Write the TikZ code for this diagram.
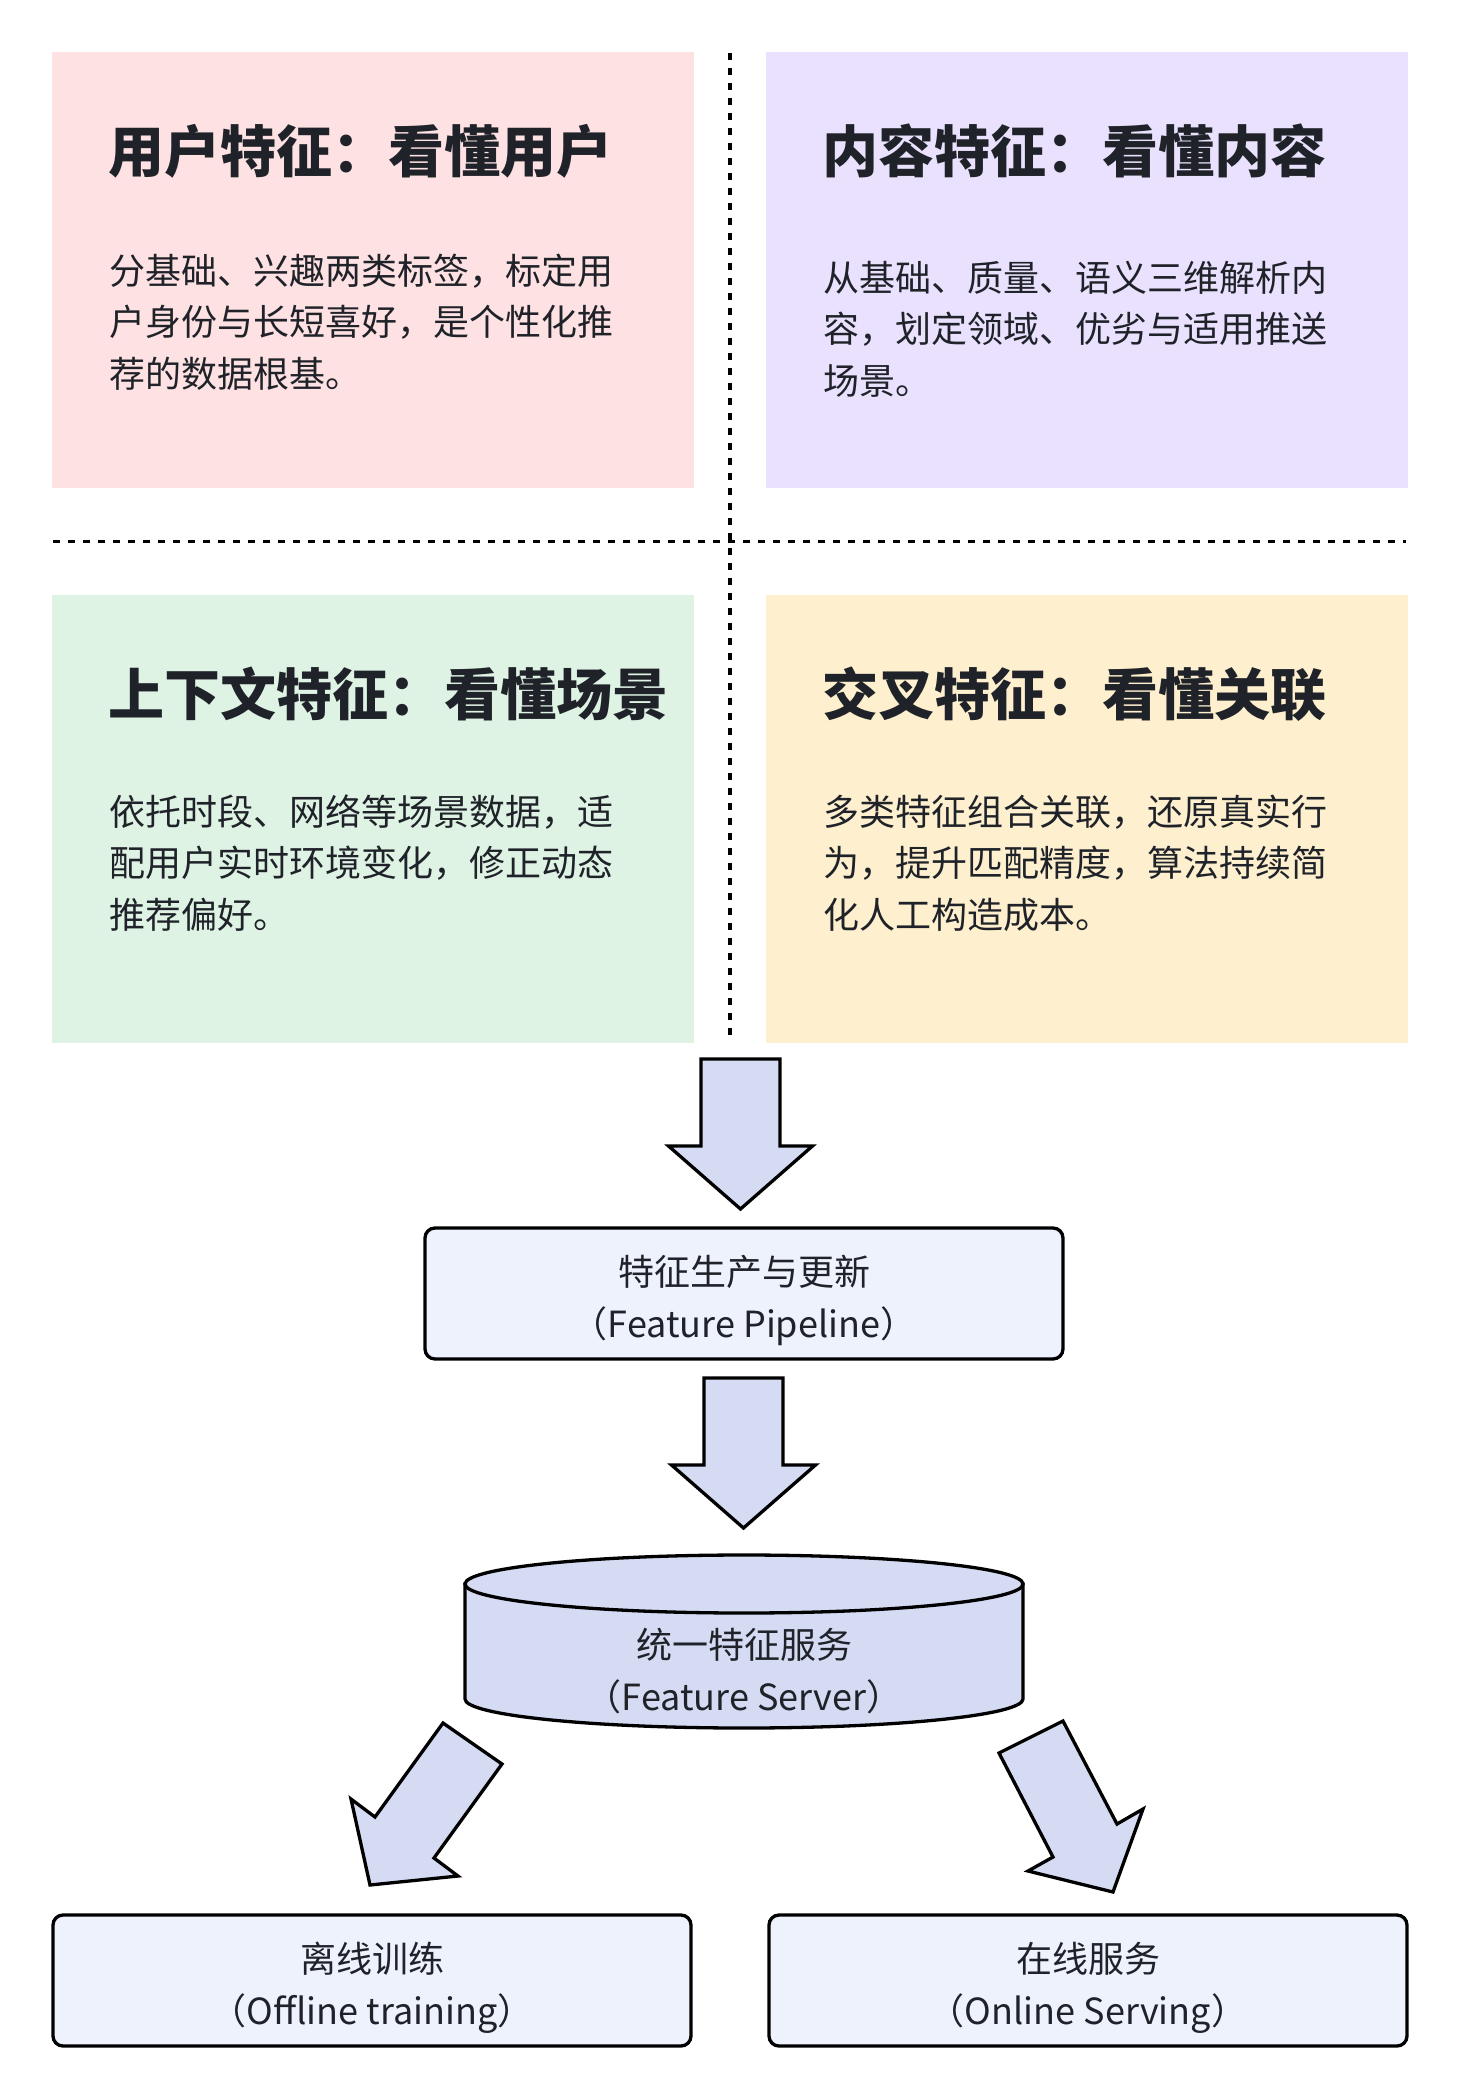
\documentclass[tikz,border=0pt]{standalone}
\usepackage{fontspec}
\setmainfont{Noto Sans CJK SC}
\definecolor{ink}{HTML}{1F2329}
\definecolor{pinkbg}{HTML}{FEE1E2}
\definecolor{purplebg}{HTML}{E9E1FD}
\definecolor{greenbg}{HTML}{DFF3E5}
\definecolor{yellowbg}{HTML}{FEF0CE}
\definecolor{arrowbg}{HTML}{D5DBF3}
\definecolor{procbg}{HTML}{EEF2FC}
\begin{document}
\begin{tikzpicture}[x=1pt,y=-1pt,
  card/.style={rectangle,inner sep=0,minimum width=642pt},
  headline/.style={anchor=base west,inner sep=0,text=ink,font=\fontsize{56}{66}\selectfont\bfseries},
  bodytext/.style={anchor=base west,inner sep=0,text=ink,align=left,font=\fontsize{36}{51.5}\selectfont},
  sep/.style={line width=3.5pt,dash pattern=on 7pt off 8pt},
  fat/.style={draw=black,fill=arrowbg,line width=3.3pt,line join=miter},
  proc/.style={draw=black,fill=procbg,line width=3.3pt,rounded corners=10pt,minimum width=638pt,minimum height=131pt},
  proctext/.style={text=ink,align=center,font=\fontsize{36}{52}\selectfont}]
  \useasboundingbox (0,0) rectangle (1464,2096);
  \node[card,fill=pinkbg,minimum height=436pt] (user) at (373,270) {};
  \node[card,fill=purplebg,minimum height=436pt] (item) at (1087,270) {};
  \node[card,fill=greenbg,minimum height=448pt] (ctx) at (373,819) {};
  \node[card,fill=yellowbg,minimum height=448pt] (cross) at (1087,819) {};
  \draw[sep] (730,53) -- (730,1037);
  \draw[sep] (53,541.5) -- (1406,541.5);
  \node[headline] (usertitle) at (108,172) {用户特征：看懂用户};
  \node[bodytext] (userbody) at (109,387) {分基础、兴趣两类标签，标定用\\户身份与长短喜好，是个性化推\\荐的数据根基。};
  \node[headline] (itemtitle) at (822,172) {内容特征：看懂内容};
  \node[bodytext] (itembody) at (823,394) {从基础、质量、语义三维解析内\\容，划定领域、优劣与适用推送\\场景。};
  \node[headline] (ctxtitle) at (108,715) {上下文特征：看懂场景};
  \node[bodytext] (ctxbody) at (109,928) {依托时段、网络等场景数据，适\\配用户实时环境变化，修正动态\\推荐偏好。};
  \node[headline] (crosstitle) at (822,715) {交叉特征：看懂关联};
  \node[bodytext] (crossbody) at (823,928) {多类特征组合关联，还原真实行\\为，提升匹配精度，算法持续简\\化人工构造成本。};
  \draw[fat] (701,1059) -- (780,1059) -- (780,1146) -- (812.5,1146) -- (740.5,1209) -- (668.5,1146) -- (701,1146) -- cycle;
  \node[proc] (pipeline) at (744,1293.5) {};
  \node[proctext,yshift=-6.5pt] (pipelinetext) at (pipeline) {特征生产与更新\\（Feature Pipeline）};
  \draw[fat] (704,1378) -- (783,1378) -- (783,1465) -- (815.5,1465) -- (743.5,1528) -- (671.5,1465) -- (704,1465) -- cycle;
  \draw[fat] (465,1584) -- (465,1699) arc[start angle=180,end angle=0,x radius=279,y radius=29] -- (1023,1584) -- cycle;
  \draw[fat] (744,1584) ellipse[x radius=279,y radius=29];
  \node[proctext] (server) at (744,1671) {统一特征服务\\（Feature Server）};
  \draw[fat] (443,1723) -- (502,1764) -- (434,1858) -- (458,1876) -- (370,1885) -- (351,1799) -- (375,1817) -- cycle;
  \draw[fat] (999,1753) -- (1063,1721) -- (1117,1824) -- (1143,1809) -- (1113,1892) -- (1028,1871) -- (1053,1857) -- cycle;
  \node[proc] (offline) at (372,1980.5) {};
  \node[proctext,yshift=-7pt] (offlinetext) at (offline) {离线训练\\（Offline training）};
  \node[proc] (online) at (1088,1980.5) {};
  \node[proctext,yshift=-7pt] (onlinetext) at (online) {在线服务\\（Online Serving）};
\end{tikzpicture}
\end{document}
